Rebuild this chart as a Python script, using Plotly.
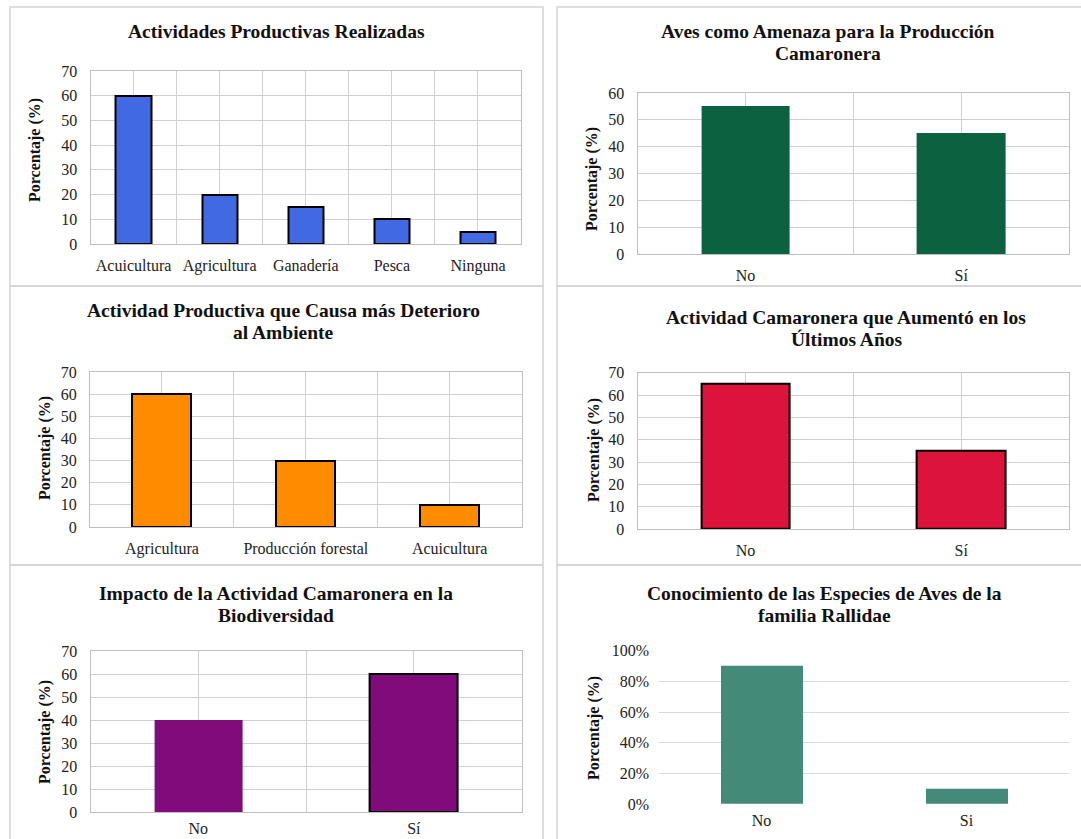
import plotly.graph_objects as go

W, H = 1081, 839

# ---------------- data ----------------
act_cats = ["Acuicultura", "Agricultura", "Ganadería", "Pesca", "Ninguna"]
act_vals = [60, 20, 15, 10, 5]

aves_cats = ["No", "Sí"]
aves_vals = [55, 45]

det_cats = ["Agricultura", "Producción forestal", "Acuicultura"]
det_vals = [60, 30, 10]

aum_cats = ["No", "Sí"]
aum_vals = [65, 35]

imp_cats = ["No", "Sí"]
imp_vals = [40, 60]

con_cats = ["No", "Si"]
con_vals = [0.90, 0.10]

titles = [
    ["Actividades Productivas Realizadas"],
    ["Aves como Amenaza para la Producción", "Camaronera"],
    ["Actividad Productiva que Causa más Deterioro", "al Ambiente"],
    ["Actividad Camaronera que Aumentó en los", "Últimos Años"],
    ["Impacto de la Actividad Camaronera en la", "Biodiversidad"],
    ["Conocimiento de las Especies de Aves de la", "familia Rallidae"],
]
y_title = "Porcentaje (%)"

# ---------------- layout specs (pixels) ----------------
panels = [
    dict(cats=act_cats, vals=act_vals, color="#4169E1", lw=[2] * 5,
         box=(90.5, 521, 71, 244), ymax=70, dtick=10, pct=False, frame=True,
         tx=276.5, ty=[32], yt=(35, 150), xstand=7),
    dict(cats=aves_cats, vals=aves_vals, color="#0C6140", lw=[0, 0],
         box=(637.6, 1069, 93, 254), ymax=60, dtick=10, pct=False, frame=True,
         tx=828, ty=[32, 54], yt=(592, 179), xstand=7),
    dict(cats=det_cats, vals=det_vals, color="#FF8C00", lw=[2] * 3,
         box=(90, 521.6, 372, 527), ymax=70, dtick=10, pct=False, frame=True,
         tx=283, ty=[310, 332], yt=(45, 448), xstand=7),
    dict(cats=aum_cats, vals=aum_vals, color="#DC143C", lw=[2, 2],
         box=(637.6, 1069, 372.7, 529), ymax=70, dtick=10, pct=False, frame=True,
         tx=846, ty=[317, 339], yt=(594, 450), xstand=7),
    dict(cats=imp_cats, vals=imp_vals, color="#800C7C", lw=[0, 2],
         box=(90.6, 521.6, 651, 812), ymax=70, dtick=10, pct=False, frame=True,
         tx=276, ty=[593, 615], yt=(45, 732), xstand=2),
    dict(cats=con_cats, vals=con_vals, color="#438A78", lw=[0, 0],
         box=(659, 1069, 650.7, 804), ymax=1.0, dtick=0.2, pct=True, frame=False,
         tx=824, ty=[593, 615], yt=(594, 728), xstand=5),
]

FONT = "Liberation Serif, Times New Roman, serif"
GRID = "#d0d0d0"

fig = go.Figure()
annotations = []
layout_axes = {}

for i, p in enumerate(panels, start=1):
    xs = list(range(len(p["cats"])))
    xa = "x" if i == 1 else f"x{i}"
    ya = "y" if i == 1 else f"y{i}"
    fig.add_trace(go.Bar(
        x=xs, y=p["vals"], xaxis=xa, yaxis=ya, width=0.41 if not p["pct"] else 0.4,
        marker=dict(color=p["color"], line=dict(color="black", width=p["lw"])),
        showlegend=False, hoverinfo="skip"))

    x0, x1, y0, y1 = p["box"]
    n = len(p["cats"])
    if p["frame"]:
        tickvals = [k / 2 - 0.5 for k in range(2 * n + 1)]
        ticktext = [p["cats"][(k - 1) // 2] if k % 2 == 1 else "" for k in range(2 * n + 1)]
        showgx = True
    else:
        tickvals = xs
        ticktext = p["cats"]
        showgx = False

    xkey = "xaxis" if i == 1 else f"xaxis{i}"
    ykey = "yaxis" if i == 1 else f"yaxis{i}"
    layout_axes[xkey] = dict(
        domain=[x0 / W, x1 / W], anchor=ya, range=[-0.5, n - 0.5],
        tickmode="array", tickvals=tickvals, ticktext=ticktext,
        showgrid=showgx, gridcolor=GRID, gridwidth=1.3, automargin=False,
        showline=p["frame"], linecolor="#bfbfbf", linewidth=1.3, mirror=p["frame"],
        ticks="", ticklabelstandoff=p["xstand"], zeroline=False,
        tickfont=dict(family=FONT, size=16, color="#222"), fixedrange=True)
    layout_axes[ykey] = dict(
        domain=[(H - y1) / H, (H - y0) / H], anchor=xa, range=[0, p["ymax"]],
        dtick=p["dtick"], tick0=0, tickformat=".0%" if p["pct"] else "d",
        showgrid=True, gridcolor=GRID if p["frame"] else "#d9d9d9", gridwidth=1.3,
        showline=p["frame"], linecolor="#bfbfbf", linewidth=1.3, mirror=p["frame"],
        ticks="", ticklabelstandoff=9, zeroline=False, automargin=False,
        tickfont=dict(family=FONT, size=16, color="#222"), fixedrange=True)

    for line, ty in zip(titles[i - 1], p["ty"]):
        annotations.append(dict(
            text=f"<b>{line}</b>", x=p["tx"] / W, y=(H - ty) / H,
            xref="paper", yref="paper", xanchor="center", yanchor="middle",
            showarrow=False, font=dict(family=FONT, size=19.5, color="#111")))
    annotations.append(dict(
        text=f"<b>{y_title}</b>", x=p["yt"][0] / W, y=(H - p["yt"][1]) / H,
        xref="paper", yref="paper", xanchor="center", yanchor="middle",
        textangle=-90, showarrow=False, font=dict(family=FONT, size=16, color="#111")))

# panel frames (decorative)
shapes = []
BORDER = "#d4d4d4"
for (l, r) in [(10, 543), (557, 1100)]:
    for (t, b) in [(7, 286), (286, 565), (565, 860)]:
        shapes.append(dict(type="rect", xref="paper", yref="paper",
                           x0=l / W, x1=r / W, y0=(H - b) / H, y1=(H - t) / H,
                           line=dict(color=BORDER, width=1.5), layer="below"))

fig.update_layout(
    width=W, height=H, margin=dict(l=0, r=0, t=0, b=0, autoexpand=False),
    paper_bgcolor="white", plot_bgcolor="white",
    font=dict(family=FONT),
    annotations=annotations, shapes=shapes, bargap=0, **layout_axes)

fig.write_html("out.html")
